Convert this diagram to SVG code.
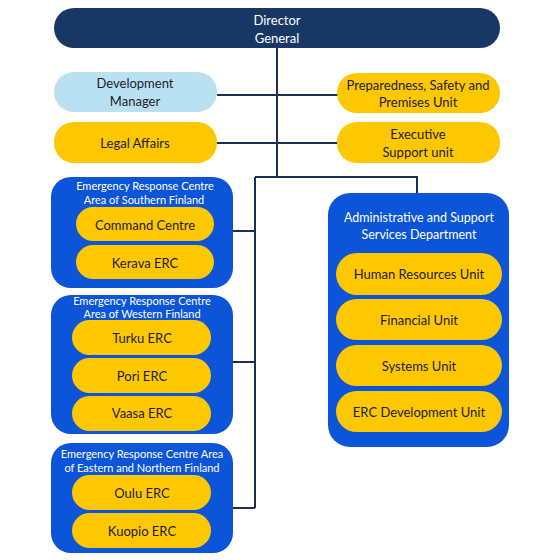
<svg xmlns="http://www.w3.org/2000/svg" width="560" height="560" viewBox="0 0 560 560">
<style>
text{font-family:Lato,"Open Sans","Liberation Sans",sans-serif;text-anchor:middle;dominant-baseline:central}
.lbl{font-size:13px;fill:#1c1c28}
.wht{fill:#ffffff}
.sm{font-size:11px;fill:#ffffff}
.yel{fill:#fdc800}
.grp{fill:#0c55d8}
.conn{stroke:#1a2e52;stroke-width:2;fill:none}
</style>
<rect width="560" height="560" fill="#ffffff"/>
<g id="connectors">
<path class="conn" d="M277 48V177M217 95H338M217 143H338M255 177H417V194M255 177V508M233 231H255M233 362H255M233 508H255"/>
</g>
<g id="director-general">
<rect x="54" y="8" width="446" height="40" rx="20" fill="#173865"/>
<text class="lbl wht" x="277" y="20" style="fill:#fff">Director</text>
<text class="lbl wht" x="277" y="38" style="fill:#fff">General</text>
</g>
<g id="development-manager">
<rect x="54" y="72" width="163" height="40" rx="20" fill="#b9e1f2"/>
<text class="lbl" x="135" y="83">Development</text>
<text class="lbl" x="135" y="101">Manager</text>
</g>
<g id="preparedness">
<rect x="337" y="73" width="163" height="40" rx="20" class="yel"/>
<text class="lbl" x="418" y="85">Preparedness, Safety and</text>
<text class="lbl" x="418" y="102">Premises Unit</text>
</g>
<g id="legal-affairs">
<rect x="54" y="122" width="163" height="41" rx="20" class="yel"/>
<text class="lbl" x="135" y="143">Legal Affairs</text>
</g>
<g id="executive-support">
<rect x="337" y="122" width="163" height="41" rx="20" class="yel"/>
<text class="lbl" x="418" y="134">Executive</text>
<text class="lbl" x="418" y="152">Support unit</text>
</g>
<g id="erc-southern">
<rect x="51" y="177" width="182" height="111" rx="20" class="grp"/>
<text class="sm" x="145" y="185">Emergency Response Centre</text>
<text class="sm" x="144" y="199">Area of Southern Finland</text>
<rect x="76" y="207" width="138" height="34" rx="17" class="yel"/>
<text class="lbl" x="145" y="225">Command Centre</text>
<rect x="76" y="245" width="138" height="34" rx="17" class="yel"/>
<text class="lbl" x="145" y="263">Kerava ERC</text>
</g>
<g id="erc-western">
<rect x="51" y="295" width="182" height="139" rx="20" class="grp"/>
<text class="sm" x="142" y="300">Emergency Response Centre</text>
<text class="sm" x="142" y="313">Area of Western Finland</text>
<rect x="72" y="320" width="139" height="35" rx="17.5" class="yel"/>
<text class="lbl" x="142" y="338">Turku ERC</text>
<rect x="72" y="358" width="139" height="35" rx="17.5" class="yel"/>
<text class="lbl" x="142" y="376">Pori ERC</text>
<rect x="72" y="396" width="139" height="35" rx="17.5" class="yel"/>
<text class="lbl" x="142" y="413">Vaasa ERC</text>
</g>
<g id="erc-eastern-northern">
<rect x="51" y="443" width="182" height="110" rx="20" class="grp"/>
<text class="sm" x="142" y="453">Emergency Response Centre Area</text>
<text class="sm" x="142" y="467">of Eastern and Northern Finland</text>
<rect x="72" y="475" width="139" height="35" rx="17.5" class="yel"/>
<text class="lbl" x="142" y="493">Oulu ERC</text>
<rect x="72" y="513" width="139" height="35" rx="17.5" class="yel"/>
<text class="lbl" x="142" y="531">Kuopio ERC</text>
</g>
<g id="admin-support">
<rect x="328" y="193" width="181" height="254" rx="22" class="grp"/>
<text class="sm" x="419" y="217" style="font-size:12.5px">Administrative and Support</text>
<text class="sm" x="419" y="234" style="font-size:12.5px">Services Department</text>
<rect x="336" y="253" width="166" height="42" rx="21" class="yel"/>
<text class="lbl" x="419" y="274">Human Resources Unit</text>
<rect x="336" y="299" width="166" height="41" rx="20.5" class="yel"/>
<text class="lbl" x="419" y="320">Financial Unit</text>
<rect x="336" y="345" width="166" height="41" rx="20.5" class="yel"/>
<text class="lbl" x="419" y="366">Systems Unit</text>
<rect x="336" y="391" width="166" height="41" rx="20.5" class="yel"/>
<text class="lbl" x="419" y="412">ERC Development Unit</text>
</g>
</svg>
